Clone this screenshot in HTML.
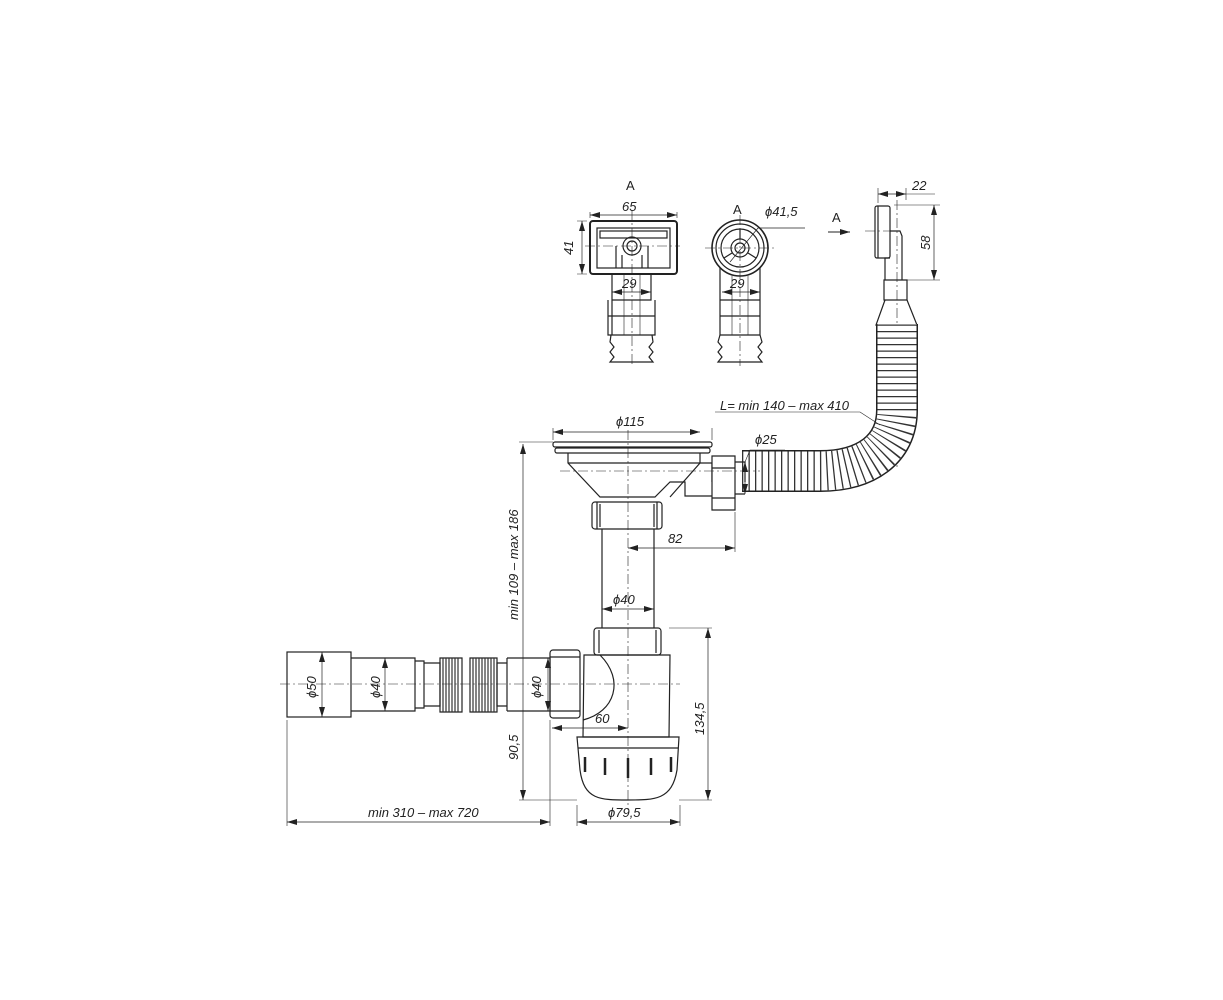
<!DOCTYPE html>
<html><head><meta charset="utf-8"><style>
html,body{margin:0;padding:0;background:#fff;}
svg{display:block;}
text{font-family:"Liberation Sans",sans-serif;font-style:italic;font-size:13px;fill:#222;}
</style></head><body>
<svg width="1223" height="1000" viewBox="0 0 1223 1000" xmlns="http://www.w3.org/2000/svg">
<defs>
<marker id="a" viewBox="0 0 10 6" refX="10" refY="3" markerWidth="10" markerHeight="6" orient="auto-start-reverse" markerUnits="userSpaceOnUse"><path d="M0,0L10,3L0,6z" fill="#222"/></marker>
</defs>
<g fill="none" stroke="#222" stroke-width="1.2">
<!-- ===== TOP VIEW 1 ===== -->
<rect x="590" y="221" width="87" height="53" rx="3" stroke-width="2"/>
<rect x="597" y="228" width="73" height="40"/>
<rect x="600" y="231" width="67" height="7"/>
<circle cx="632" cy="246" r="9"/><circle cx="632" cy="246" r="5"/>
<path d="M616,246V268M648,246V268M622,255V268M642,255V268"/>
<path d="M612,274V300H651V274M608,300V335H655V300M608,316H655M612,300V335"/>
<path d="M611,335L610,342L614,347L610,352L614,357L610,362H653L649,357L653,352L649,347L653,342L652,335"/>
<path d="M624,274V335M640,274V335" stroke-width="0.6"/>
<path d="M632,210V366M585,246H680" stroke-width="0.6" stroke-dasharray="10,3,2,3"/>
<path d="M590,218V212M677,218V212" stroke-width="0.6"/>
<path d="M590,215H677" stroke-width="0.7" marker-start="url(#a)" marker-end="url(#a)"/>
<path d="M587,221H577M587,274H577" stroke-width="0.6"/>
<path d="M582,221V274" stroke-width="0.7" marker-start="url(#a)" marker-end="url(#a)"/>
<path d="M612,292H651" stroke-width="0.7" marker-start="url(#a)" marker-end="url(#a)"/>
<!-- ===== TOP VIEW 2 ===== -->
<circle cx="740" cy="248" r="28" stroke-width="1.6"/>
<circle cx="740" cy="248" r="24"/>
<circle cx="740" cy="248" r="19"/>
<circle cx="740" cy="248" r="9"/><circle cx="740" cy="248" r="5"/>
<path d="M740,229V239M724,258L732,253M756,258L748,253"/>
<path d="M720,268V300H760V268M720,300V335H760V300M720,316H760"/>
<path d="M720,335L718,342L722,347L718,352L722,357L718,362H762L758,357L762,352L758,347L762,342L760,335"/>
<path d="M732,276V335M748,276V335" stroke-width="0.6"/>
<path d="M740,215V366M705,248H775" stroke-width="0.6" stroke-dasharray="10,3,2,3"/>
<path d="M722,292H760" stroke-width="0.7" marker-start="url(#a)" marker-end="url(#a)"/>
<path d="M730,262L758,228H805" stroke-width="0.7"/>
<!-- ===== SIDE VIEW ===== -->
<rect x="875" y="206" width="15" height="52" rx="2"/>
<path d="M878,206V258"/>
<path d="M890,231H900L902,236V280M890,258H885V280M884,280H907V300H884Z"/>
<path d="M885,300L876,325H917L907,300"/>
<path d="M865,231H900M897,200V470" stroke-width="0.6" stroke-dasharray="10,3,2,3"/>
<path d="M828,232H850" stroke-width="1" marker-end="url(#a)"/>
<path d="M878,203V188M906,200V188M894,205H940M906,280H940" stroke-width="0.6"/>
<path d="M878,194H906" stroke-width="0.7" marker-start="url(#a)" marker-end="url(#a)"/>
<path d="M906,194H935" stroke-width="0.6"/>
<path d="M934,205V280" stroke-width="0.7" marker-start="url(#a)" marker-end="url(#a)"/>
</g>
<!-- ===== HOSE (corrugated) ===== -->
<g fill="none">
<path d="M742,471H820C865,471 897,450 897,410V324" stroke="#222" stroke-width="42"/>
<path d="M742,471H820C865,471 897,450 897,410V324" stroke="#fff" stroke-width="39"/>
<path d="M742,471H820C865,471 897,450 897,410V324" stroke="#333" stroke-width="39" stroke-dasharray="1.3,5.2"/>
<path d="M742,471H820C865,471 897,450 897,410V324" stroke="#fff" stroke-width="24" stroke-dasharray="1.3,5.2" stroke-dashoffset="2.6" opacity="0"/>
</g>
<g fill="none" stroke="#222" stroke-width="1.2">
<!-- ===== STRAINER ===== -->
<rect x="553" y="442" width="159" height="5" rx="2"/>
<rect x="555" y="448" width="155" height="5" rx="2"/>
<path d="M568,453V463L600,497H655L670,482H685V496H712M685,463H712V482M568,463H700"/>
<path d="M700,453V463L670,497" />
<path d="M712,456H735V510H712Z" fill="#fff"/>
<path d="M712,468H735M712,498H735"/>
<path d="M735,462H745V482M735,494H745" />
<!-- nut -->
<rect x="592" y="502" width="70" height="27" rx="3"/>
<path d="M597,502V529M657,502V529M600,504V527M654,504V527"/>
<path d="M602,529V628M654,529V628"/>
<rect x="594" y="628" width="67" height="27" rx="3"/>
<path d="M599,630V653M656,630V653"/>
<!-- trap body -->
<path d="M584,655H670L669,737H583Z"/>
<path d="M600,655C625,680 615,712 583,720"/>
<path d="M577,737H679L677,770C672,800 655,800 628,800C600,800 584,800 580,770Z"/>
<path d="M578,748H678"/>
<path d="M585,757V772M605,758V775M628,758V778M651,758V775M671,757V772" stroke-width="2.5"/>
<!-- left nut -->
<rect x="550" y="650" width="30" height="68" rx="3"/>
<path d="M550,657H580M550,711H580"/>
<!-- left pipe -->
<rect x="287" y="652" width="64" height="65"/>
<path d="M351,658H415V711H351M415,661H424V708H415M424,663H440V706H424M507,663H497V706H507M507,658H550M507,711H550V658M507,658V711"/>
<path d="M440,658H462V712H440Z"/>
<path d="M470,658H497V712H470Z"/>
</g>
<g stroke="#333" stroke-width="1.2">
<path d="M443,658V712M446,658V712M449,658V712M452,658V712M455,658V712M458,658V712M473,658V712M476,658V712M479,658V712M482,658V712M485,658V712M488,658V712M491,658V712M494,658V712"/>
</g>
<g fill="none" stroke="#222" stroke-width="0.6">
<path d="M628,430V810M280,684H680M560,471H760" stroke-dasharray="10,3,2,3"/>
<!-- dims -->
<path d="M553,440V428M712,440V428"/>
<path d="M553,432H700" stroke-width="0.7" marker-start="url(#a)" marker-end="url(#a)"/>
<path d="M519,442H553M519,800H577M287,720V826M550,720V826M577,805V826M680,805V826M669,628H712M679,800H712M735,512V552"/>
<path d="M523,444V800" stroke-width="0.7" marker-start="url(#a)" marker-end="url(#a)"/>
<path d="M708,628V800" stroke-width="0.7" marker-start="url(#a)" marker-end="url(#a)"/>
<path d="M628,548H735" stroke-width="0.7" marker-start="url(#a)" marker-end="url(#a)"/>
<path d="M602,609H654" stroke-width="0.7" marker-start="url(#a)" marker-end="url(#a)"/>
<path d="M552,728H628" stroke-width="0.7" marker-start="url(#a)" marker-end="url(#a)"/>
<path d="M577,822H680" stroke-width="0.7" marker-start="url(#a)" marker-end="url(#a)"/>
<path d="M287,822H550" stroke-width="0.7" marker-start="url(#a)" marker-end="url(#a)"/>
<path d="M322,652V717" stroke-width="0.7" marker-start="url(#a)" marker-end="url(#a)"/>
<path d="M385,658V711" stroke-width="0.7" marker-start="url(#a)" marker-end="url(#a)"/>
<path d="M548,658V711" stroke-width="0.7" marker-start="url(#a)" marker-end="url(#a)"/>
<path d="M745,462V494" stroke-width="0.7" marker-start="url(#a)" marker-end="url(#a)"/>
<path d="M745,462L750,450H785" />
<path d="M715,412H860L880,425" />
</g>
<g>
<text x="626" y="190" font-size="16" style="font-style:normal">A</text>
<text x="733" y="214" font-size="16" style="font-style:normal">A</text>
<text x="832" y="222" font-size="16" style="font-style:normal">A</text>
<text x="622" y="211">65</text>
<text x="765" y="216">ϕ41,5</text>
<text x="622" y="288">29</text>
<text x="730" y="288">29</text>
<text x="912" y="190">22</text>
<text transform="translate(573,255) rotate(-90)">41</text>
<text transform="translate(930,250) rotate(-90)">58</text>
<text x="616" y="426">ϕ115</text>
<text x="720" y="410">L= min 140 – max 410</text>
<text x="755" y="444">ϕ25</text>
<text x="668" y="543">82</text>
<text x="613" y="604">ϕ40</text>
<text x="595" y="723">60</text>
<text x="608" y="817">ϕ79,5</text>
<text x="368" y="817">min 310 – max 720</text>
<text transform="translate(518,620) rotate(-90)">min 109 – max 186</text>
<text transform="translate(518,760) rotate(-90)">90,5</text>
<text transform="translate(704,735) rotate(-90)">134,5</text>
<text transform="translate(316,698) rotate(-90)">ϕ50</text>
<text transform="translate(380,698) rotate(-90)">ϕ40</text>
<text transform="translate(541,698) rotate(-90)">ϕ40</text>
</g>
</svg>
</body></html>
